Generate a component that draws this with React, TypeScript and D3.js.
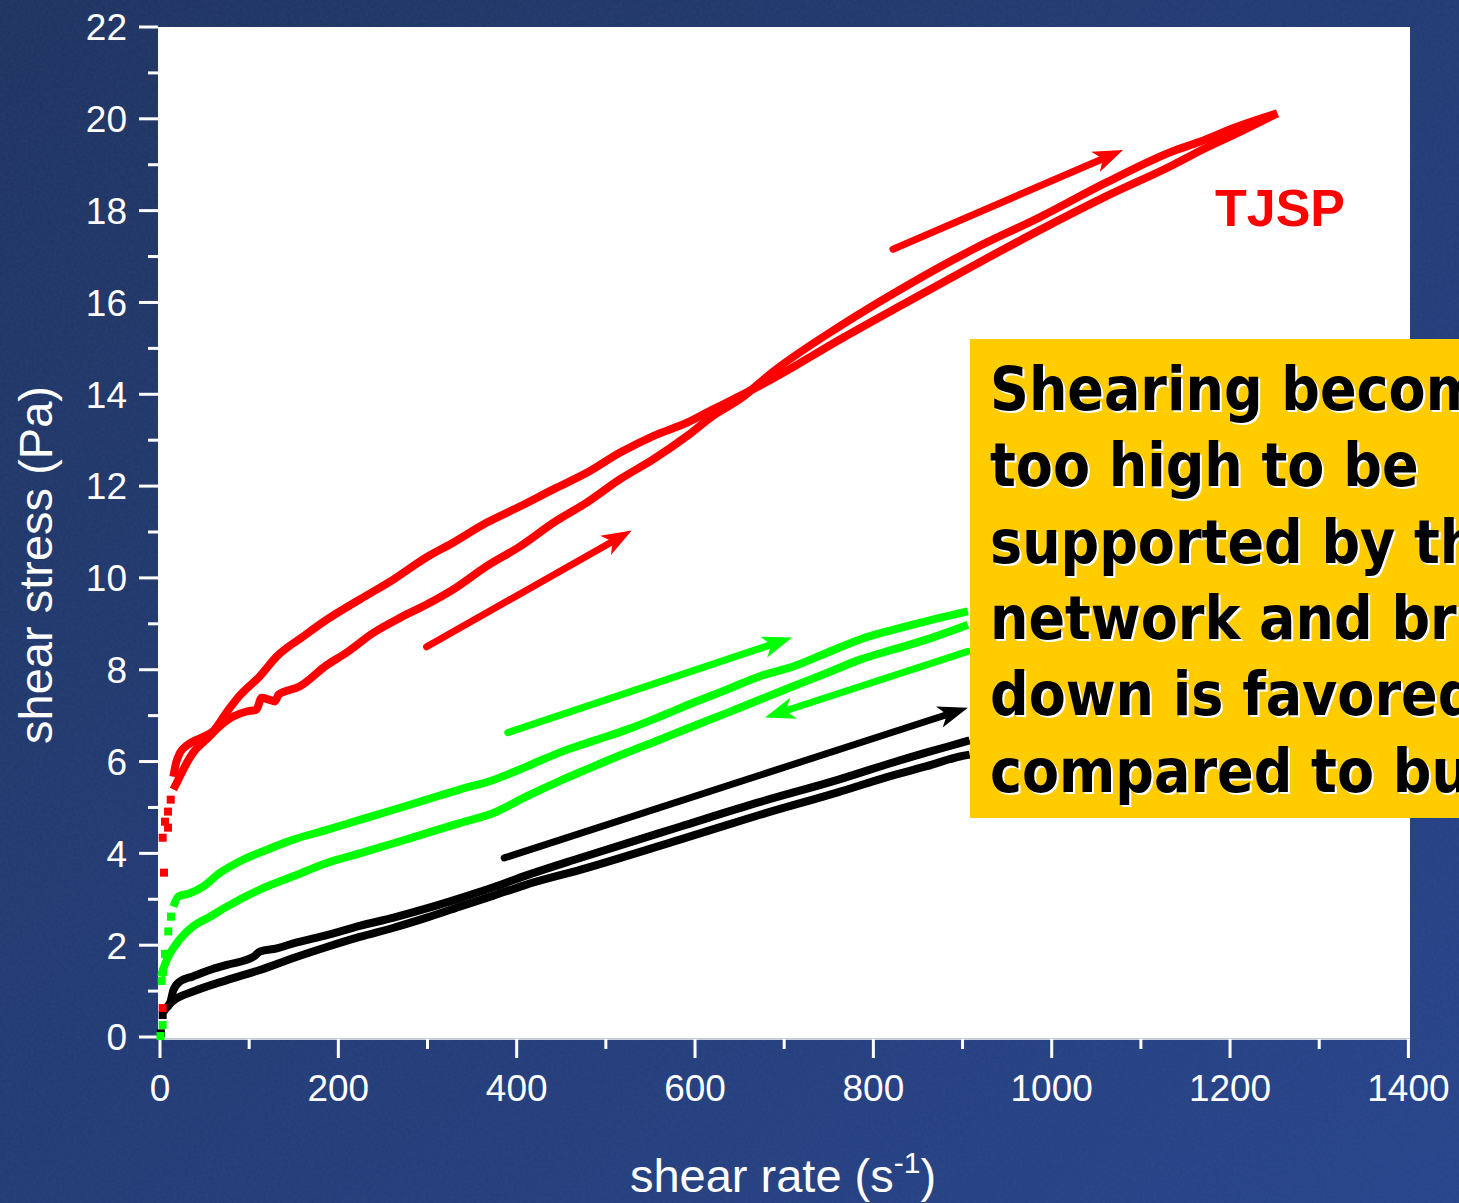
import React from "react";
import * as d3 from "d3";

// shear rate (1/s) vs shear stress (Pa)
// first readings are sparse, drawn as separate square markers
const redStartDots: [number, number][] = [
  [3, 0.63], [4.5, 3.58], [3, 4.34], [5.6, 4.69], [9, 4.56], [9, 4.91], [12, 5.17]
];
const redLoopA: [number, number][] = [
  [15, 5.67], [18, 5.97], [22.4, 6.19], [30, 6.35], [45, 6.51], [60, 6.67], [75, 7.08], [90, 7.45],
  [112, 7.86], [131, 8.29], [161, 8.73], [187, 9.09], [224, 9.53], [262, 9.97], [299, 10.45],
  [329, 10.77], [366, 11.2], [404, 11.56], [441, 11.93], [478.5, 12.29], [516, 12.73], [553, 13.09],
  [591, 13.38], [620, 13.67], [650, 13.96], [688, 14.35], [763, 15.2], [837, 16.0], [912, 16.8],
  [987, 17.58], [1062, 18.32], [1136.5, 19.0], [1166, 19.3], [1204, 19.65], [1253, 20.12]
];
const redLoopB: [number, number][] = [
  [15, 5.39], [22.4, 5.68], [30, 5.97], [37, 6.19], [52, 6.48], [67, 6.77], [82, 6.98], [97, 7.09],
  [108, 7.13], [114, 7.39], [122, 7.35], [129, 7.31], [133, 7.46], [157, 7.64], [187, 8.1], [209, 8.37],
  [239, 8.8], [269, 9.13], [299, 9.42], [329, 9.75], [366, 10.25], [404, 10.69], [441, 11.2],
  [478.5, 11.64], [516, 12.15], [553, 12.58], [591, 13.09], [620, 13.53], [650, 13.89], [688, 14.5],
  [763, 15.49], [837, 16.36], [912, 17.16], [987, 17.86], [1062, 18.62], [1136.5, 19.3], [1166, 19.5],
  [1204, 19.8], [1253, 20.12]
];
const greenStartDots: [number, number][] = [
  [0.5, 0.02], [3, 0.26], [1.9, 1.22], [3.5, 1.42], [5.6, 1.81], [9.3, 2.3], [12.3, 2.62]
];
const greenLoopA: [number, number][] = [
  [15, 2.84], [20.6, 3.06], [33.6, 3.13], [48.6, 3.28], [67, 3.57], [93, 3.86], [120, 4.08],
  [149.5, 4.3], [187, 4.51], [224, 4.73], [262, 4.95], [299, 5.17], [336, 5.39], [374, 5.6], [411, 5.89],
  [448.6, 6.2], [486, 6.45], [523, 6.69], [561, 6.98], [598, 7.28], [636, 7.57], [673, 7.86],
  [710, 8.07], [748, 8.37], [785, 8.66], [822, 8.87], [860, 9.06], [906, 9.27]
];
const greenLoopB: [number, number][] = [
  [1, 1.32], [7.5, 1.68], [18.7, 2.04], [37, 2.41], [56, 2.62], [75, 2.84], [112, 3.21], [149.5, 3.5],
  [187, 3.79], [224, 4.0], [262, 4.22], [299, 4.44], [336, 4.66], [374, 4.88], [411, 5.24],
  [448.6, 5.58], [486, 5.89], [523, 6.19], [561, 6.48], [598, 6.77], [636, 7.06], [673, 7.35],
  [710, 7.64], [748, 7.93], [785, 8.22], [822, 8.44], [860, 8.66], [906, 8.98]
];
const blackStartDots: [number, number][] = [[1, 0.08], [3, 0.48]];
const blackLoopA: [number, number][] = [
  [6, 0.62], [11, 0.72], [15, 1.02], [22.4, 1.21], [37, 1.32], [56, 1.46], [75, 1.57], [105, 1.75],
  [112, 1.86], [131, 1.93], [149.5, 2.04], [187, 2.22], [224, 2.42], [262, 2.6], [299, 2.8],
  [336, 3.02], [374, 3.26], [411, 3.52], [471, 3.9], [583, 4.58], [673, 5.12], [760, 5.6],
  [822, 5.98], [860, 6.2], [897, 6.4], [908, 6.46]
];
const blackLoopB: [number, number][] = [
  [4, 0.55], [11, 0.73], [18.7, 0.84], [37, 0.99], [75, 1.24], [112, 1.46], [149.5, 1.72], [187, 1.96],
  [224, 2.18], [262, 2.38], [299, 2.6], [336, 2.84], [374, 3.08], [411, 3.32], [471, 3.64],
  [583, 4.3], [673, 4.84], [760, 5.33], [822, 5.7], [860, 5.9], [897, 6.11], [908, 6.15]
];

// arrows: [x1, y1, x2, y2] in data units
const redArrows = [[299, 8.5, 529, 11.03], [822, 17.16, 1080, 19.32]];
const greenArrows = [[390, 6.63, 709, 8.7], [906, 8.4, 678.5, 6.96]];
const blackArrows = [[386, 3.9, 906, 7.17]];

const xMajor = d3.range(0, 1401, 200);
const xMinor = d3.range(100, 1400, 200);
const yMajor = d3.range(0, 23, 2);
const yMinor = d3.range(1, 22, 2);

const noteLines = [
  "Shearing becomes",
  "too high to be",
  "supported by the",
  "network and break",
  "down is favored",
  "compared to build up"
];

const W = 1459;
const H = 1203;

const x = d3.scaleLinear().domain([0, 1400]).range([160, 1408.4]);
const y = d3.scaleLinear().domain([0, 22]).range([1037, 27]);

const line = d3.line<[number, number]>().x(d => x(d[0])).y(d => y(d[1])).curve(d3.curveMonotoneX);

function Loop({ pts, color }: { pts: [number, number][]; color: string }) {
  return <path d={line(pts) || ""} fill="none" stroke={color} strokeWidth={8} strokeLinejoin="round" />;
}

function Dots({ pts, color }: { pts: [number, number][]; color: string }) {
  return (
    <g>
      {pts.map((p, i) => (
        <rect key={i} x={x(p[0]) - 4} y={y(p[1]) - 4} width={8} height={8} fill={color} />
      ))}
    </g>
  );
}

function Arrow({ a, color }: { a: number[]; color: string }) {
  const x1 = x(a[0]), y1 = y(a[1]), x2 = x(a[2]), y2 = y(a[3]);
  const len = Math.hypot(x2 - x1, y2 - y1);
  const ux = (x2 - x1) / len, uy = (y2 - y1) / len;
  const nx = -uy, ny = ux;
  const hl = 30, hw = 11, notch = 22;
  const bx = x2 - ux * hl, by = y2 - uy * hl;
  const head = [
    [x2, y2],
    [bx + nx * hw, by + ny * hw],
    [x2 - ux * notch, y2 - uy * notch],
    [bx - nx * hw, by - ny * hw]
  ].map(p => p.join(",")).join(" ");
  return (
    <g>
      <line x1={x1} y1={y1} x2={x2 - ux * (notch - 2)} y2={y2 - uy * (notch - 2)} stroke={color} strokeWidth={7} strokeLinecap="round" />
      <polygon points={head} fill={color} />
    </g>
  );
}

export default function App() {
  const tickFont = "'Liberation Sans', Arial, sans-serif";
  return (
    <div style={{ position: "absolute", left: 0, top: 0, width: W, height: H, overflow: "hidden" }}>
      <svg width={W} height={H} style={{ display: "block" }}>
        <defs>
          <linearGradient id="bg" x1="0" y1="0" x2="1" y2="1">
            <stop offset="0" stopColor="#1d325f" />
            <stop offset="1" stopColor="#26438c" />
          </linearGradient>
          <filter id="grain">
            <feTurbulence type="fractalNoise" baseFrequency="0.35" numOctaves="2" seed="3" />
            <feColorMatrix type="matrix" values="0 0 0 0 0.1  0 0 0 0 0.15  0 0 0 0 0.3  0 0 0 0.35 0" />
          </filter>
        </defs>
        <rect width={W} height={H} fill="url(#bg)" />
        <rect width={W} height={H} filter="url(#grain)" opacity={0.5} />

        {/* plot area */}
        <rect x={158} y={27} width={1252} height={1012} fill="#ffffff" />
        <line x1={158} x2={1410} y1={1039} y2={1039} stroke="#c9cdd8" strokeWidth={2} />

        {/* ticks */}
        {yMajor.map(v => (
          <g key={"ym" + v}>
            <line x1={139} x2={158} y1={y(v)} y2={y(v)} stroke="#ffffff" strokeWidth={3} />
            <text x={127} y={y(v)} dy="0.36em" textAnchor="end" fill="#ffffff" fontSize={37} fontFamily={tickFont}>{v}</text>
          </g>
        ))}
        {yMinor.map(v => (
          <line key={"yn" + v} x1={148} x2={158} y1={y(v)} y2={y(v)} stroke="#ffffff" strokeWidth={3} />
        ))}
        {xMajor.map(v => (
          <g key={"xm" + v}>
            <line x1={x(v)} x2={x(v)} y1={1039} y2={1058} stroke="#ffffff" strokeWidth={3} />
            <text x={x(v)} y={1101} textAnchor="middle" fill="#ffffff" fontSize={37} fontFamily={tickFont}>{v}</text>
          </g>
        ))}
        {xMinor.map(v => (
          <line key={"xn" + v} x1={x(v)} x2={x(v)} y1={1039} y2={1049} stroke="#ffffff" strokeWidth={3} />
        ))}

        {/* axis titles */}
        <text transform="translate(52,565) rotate(-90)" textAnchor="middle" fill="#ffffff" fontSize={47} fontFamily={tickFont}>
          shear stress (Pa)
        </text>
        <text x={783} y={1192} textAnchor="middle" fill="#ffffff" fontSize={47} fontFamily={tickFont}>
          shear rate (s<tspan fontSize={30} dy={-19}>-1</tspan><tspan dy={19}>)</tspan>
        </text>

        {/* data */}
        <Loop pts={blackLoopB} color="#000000" />
        <Loop pts={blackLoopA} color="#000000" />
        <Dots pts={blackStartDots} color="#000000" />
        <Loop pts={greenLoopB} color="#00ff00" />
        <Loop pts={greenLoopA} color="#00ff00" />
        <Dots pts={greenStartDots} color="#00ff00" />
        <Loop pts={redLoopB} color="#ff0000" />
        <Loop pts={redLoopA} color="#ff0000" />
        <Dots pts={redStartDots} color="#ff0000" />

        {redArrows.map((a, i) => <Arrow key={"r" + i} a={a} color="#ff0000" />)}
        {greenArrows.map((a, i) => <Arrow key={"g" + i} a={a} color="#00ff00" />)}
        {blackArrows.map((a, i) => <Arrow key={"b" + i} a={a} color="#000000" />)}

        <text x={1280} y={226} textAnchor="middle" fill="#ff0000" fontSize={52} fontWeight="bold" fontFamily={tickFont}>TJSP</text>

        {/* note box, runs off the right edge as in the slide */}
        <rect x={970} y={339} width={W - 970} height={479} fill="#ffcc00" />
        {noteLines.map((t, i) => (
          <g key={i} fontSize={60} fontWeight="bold" fontFamily="'Comic Sans MS', 'DejaVu Sans Condensed', 'DejaVu Sans', sans-serif" style={{ fontStretch: "condensed" }}>
            <text x={992} y={412 + i * 76.3} fill="#ffffff">{t}</text>
            <text x={990} y={410 + i * 76.3} fill="#000000">{t}</text>
          </g>
        ))}
      </svg>
    </div>
  );
}
